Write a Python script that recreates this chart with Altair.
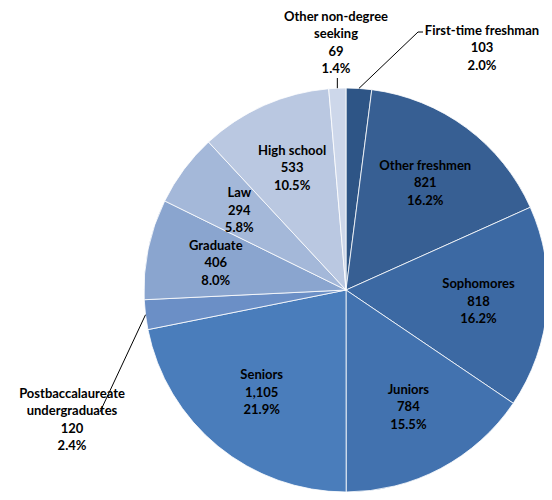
import math
import altair as alt
import pandas as pd

categories = ["First-time freshman", "Other freshmen", "Sophomores", "Juniors", "Seniors",
              "Postbaccalaureate undergraduates", "Graduate", "Law", "High school",
              "Other non-degree seeking"]
label_lines = ["First-time freshman", "Other freshmen", "Sophomores", "Juniors", "Seniors",
               "Postbaccalaureate\nundergraduates", "Graduate", "Law", "High school",
               "Other non-degree\nseeking"]
counts = [103, 821, 818, 784, 1105, 120, 406, 294, 533, 69]
count_labels = ["103", "821", "818", "784", "1,105", "120", "406", "294", "533", "69"]
pct_labels = ["2.0%", "16.2%", "16.2%", "15.5%", "21.9%", "2.4%", "8.0%", "5.8%", "10.5%", "1.4%"]
colors = ["#2E5586", "#375F93", "#3C69A3", "#4272AF", "#4A7DBB", "#6B8FC6",
          "#8AA5CF", "#A4B8D9", "#BAC8E1", "#CDD7EA"]
outside = ["First-time freshman", "Postbaccalaureate undergraduates", "Other non-degree seeking"]

# layout (pixels, chart coordinates)
W, H = 536, 484
CX, CY = 338, 282          # pie centre
R = 202                    # pie radius
R_LABEL = 133              # inner label radius
FONT = "Lato"
LH = 17.5

df = pd.DataFrame({
    "idx": list(range(len(categories))),
    "category": categories,
    "count": counts,
    "label": [f"{l}\n{c}\n{p}" for l, c, p in zip(label_lines, count_labels, pct_labels)],
})
df["outside"] = df["category"].isin(outside)
df["nlines"] = df["label"].str.count("\n") + 1

total = sum(counts)
cum = 0
mid_angle = {}
for c, v in zip(categories, counts):
    mid_angle[c] = (cum + v / 2) / total * 2 * math.pi
    cum += v

def edge(cat):
    a = mid_angle[cat]
    return R * math.sin(a), R * math.cos(a)

# outer label block centres (relative to pie centre, y up)
outer_anchor = {
    "First-time freshman": (136, 242),
    "Other non-degree seeking": (-10, 247),
    "Postbaccalaureate undergraduates": (-274, -130),
}
leader_rows = []
sx, sy = edge("First-time freshman")
for k, (x, y) in enumerate([(sx, sy), (72, 258), (77, 258)]):
    leader_rows.append({"seg": "a", "o": k, "x": x, "y": y})
sx, sy = edge("Other non-degree seeking")
for k, (x, y) in enumerate([(sx, sy), (sx, 212)]):
    leader_rows.append({"seg": "b", "o": k, "x": x, "y": y})
sx, sy = edge("Postbaccalaureate undergraduates")
for k, (x, y) in enumerate([(sx, sy), (-246, -122)]):
    leader_rows.append({"seg": "c", "o": k, "x": x, "y": y})
leaders = pd.DataFrame(leader_rows)

outer_df = df[df["outside"]].copy()
outer_df["x"] = [outer_anchor[c][0] for c in outer_df["category"]]
# Vega puts the first line at the anchor; shift so the block is centred
outer_df["y"] = [outer_anchor[c][1] + (n - 1) * LH / 2
                 for c, n in zip(outer_df["category"], outer_df["nlines"])]

xscale = alt.Scale(domain=[-CX, W - CX], range=[0, W], nice=False, zero=False)
yscale = alt.Scale(domain=[-(H - CY), CY], range=[H, 0], nice=False, zero=False)

base = alt.Chart(df)
theta = alt.Theta("count:Q", stack=True)

pie = base.mark_arc(radius=R, stroke="white", strokeWidth=0.8).encode(
    theta=theta,
    order=alt.Order("idx:Q"),
    color=alt.Color("category:N", scale=alt.Scale(domain=categories, range=colors), legend=None),
    x=alt.value(CX), y=alt.value(CY),
)

inner_text = base.mark_text(radius=R_LABEL, font=FONT, fontWeight="bold", fontSize=13,
                            lineHeight=LH, color="black", align="center", baseline="middle",
                            lineBreak="\n", dy=-LH).encode(
    theta=theta,
    order=alt.Order("idx:Q"),
    text=alt.condition(alt.datum.outside, alt.value(""), alt.Text("label:N")),
    x=alt.value(CX), y=alt.value(CY),
)

lines = alt.Chart(leaders).mark_line(color="black", strokeWidth=1).encode(
    x=alt.X("x:Q", scale=xscale, axis=None),
    y=alt.Y("y:Q", scale=yscale, axis=None),
    detail="seg:N",
    order="o:Q",
)

outer_text = alt.Chart(outer_df).mark_text(font=FONT, fontWeight="bold", fontSize=13,
                                           lineHeight=LH, color="black", align="center",
                                           baseline="middle", lineBreak="\n").encode(
    x=alt.X("x:Q", scale=xscale, axis=None),
    y=alt.Y("y:Q", scale=yscale, axis=None),
    text="label:N",
)

chart = alt.layer(pie, inner_text, lines, outer_text).properties(
    width=W, height=H, padding=0, autosize=alt.AutoSizeParams(type="none")
).configure_view(stroke=None).resolve_scale(theta="shared")

chart.save("out.html", embed_options={"renderer": "svg", "actions": False})
